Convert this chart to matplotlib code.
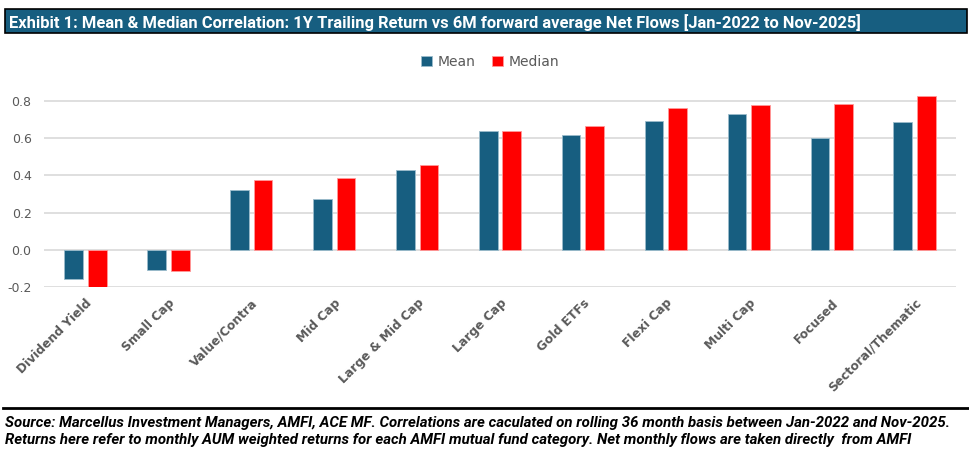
import matplotlib.pyplot as plt
import numpy as np

categories = ['Dividend Yield', 'Small Cap', 'Value/Contra', 'Mid Cap', 'Large & Mid Cap',
              'Large Cap', 'Gold ETFs', 'Flexi Cap', 'Multi Cap', 'Focused', 'Sectoral/Thematic']
mean_vals = [-0.159, -0.112, 0.322, 0.272, 0.427, 0.639, 0.621, 0.693, 0.730, 0.600, 0.690]
median_vals = [-0.200, -0.117, 0.376, 0.387, 0.457, 0.639, 0.666, 0.764, 0.780, 0.787, 0.830]
yticks = [-0.2, 0.0, 0.2, 0.4, 0.6, 0.8]

title = 'Exhibit 1: Mean & Median Correlation: 1Y Trailing Return vs 6M forward average Net Flows [Jan-2022 to Nov-2025]'
source = ('Source: Marcellus Investment Managers, AMFI, ACE MF. Correlations are caculated on rolling 36 month basis between Jan-2022 and Nov-2025.\n'
          'Returns here refer to monthly AUM weighted returns for each AMFI mutual fund category. Net monthly flows are taken directly  from AMFI')

blue = '#175e80'
red = '#ff0000'
grey = '#595959'

fig = plt.figure(figsize=(9.7, 4.51), dpi=100)
ax = fig.add_axes([0.0454, 0.3643, 0.9402, 0.4521])

x = np.arange(len(categories))
w = 0.225
ax.bar(x - 0.142, mean_vals, w, color=blue, edgecolor='#9bbccc', linewidth=0.6, label='Mean', zorder=3)
ax.bar(x + 0.142, median_vals, w, color=red, edgecolor='#ff9a9a', linewidth=0.6, label='Median', zorder=3)

ax.set_xlim(-0.5, len(categories) - 0.5)
ax.set_ylim(-0.2, 0.9)
ax.set_yticks(yticks)
ax.set_yticklabels([f'{v:.1f}' for v in yticks], color=grey, fontsize=9)
ax.grid(axis='y', color='#d9d9d9', linewidth=1.2, zorder=0)
ax.set_xticks(x)
ax.set_xticklabels(categories, rotation=45, ha='right', va='top', rotation_mode='anchor',
                   color=grey, fontsize=8.8, fontweight='bold')
ax.tick_params(length=0, pad=7)
ax.tick_params(axis='y', pad=9)
for s in ax.spines.values():
    s.set_visible(False)

ax.legend(loc='center', bbox_to_anchor=(0.505, 0.8625), bbox_transform=fig.transFigure, ncol=2,
          frameon=False, fontsize=10, labelcolor=grey, handlelength=0.8, handleheight=0.8,
          columnspacing=1.2, handletextpad=0.4)

# title bar
fig.patches.append(plt.Rectangle((0.005, 0.927), 0.992, 0.053, transform=fig.transFigure,
                                 facecolor=blue, edgecolor='black', linewidth=1.2))
fig.text(0.009, 0.951, title, color='white', fontsize=11.9, fontweight='bold', va='center', family='Roboto')

# bottom rule and source
fig.add_artist(plt.Line2D([0.003, 1.0], [0.095, 0.095], color='black', linewidth=2, transform=fig.transFigure))
fig.text(0.005, 0.044, source, fontsize=10.8, fontweight='bold', style='italic', va='center',
         linespacing=1.25, family='Roboto')

fig.savefig('out.png', dpi=100)
